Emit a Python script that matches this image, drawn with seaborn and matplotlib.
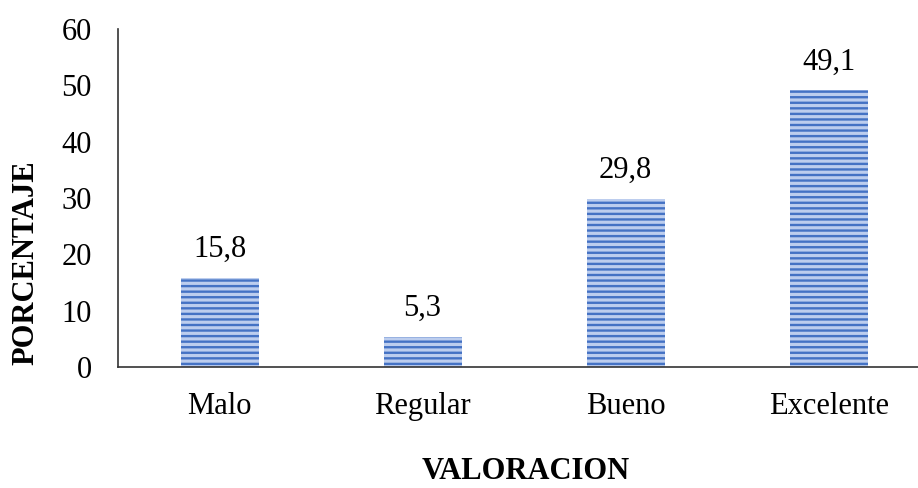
import matplotlib
matplotlib.use("Agg")
import matplotlib.pyplot as plt
import seaborn as sns
import pandas as pd

categorias = ["Malo", "Regular", "Bueno", "Excelente"]
porcentajes = [15.8, 5.3, 29.8, 49.1]
yticks = [0, 10, 20, 30, 40, 50, 60]

sns.set_style("white")
plt.rcParams['font.family'] = ['Liberation Serif', 'DejaVu Serif']
plt.rcParams['text.color'] = 'black'
plt.rcParams['hatch.linewidth'] = 1.7
plt.rcParams['hatch.color'] = '#4472c4'

FS = 22

df = pd.DataFrame({"VALORACION": categorias, "PORCENTAJE": porcentajes})

fig = plt.figure(figsize=(9.18, 4.88), dpi=100)
ax = fig.add_axes([118 / 918, 121 / 488, 800 / 918, 338 / 488])

sns.barplot(data=df, x="VALORACION", y="PORCENTAJE", ax=ax,
            color="#bccdee", width=0.384, saturation=1)
for p in ax.patches:
    p.set_hatch('---')
    p.set_edgecolor('#4472c4')
    p.set_linewidth(0)

for i, v in enumerate(porcentajes):
    ax.annotate(f"{v:.1f}".replace(".", ","), (i, v), xytext=(0, 10),
                textcoords="offset points", ha="center", va="bottom",
                fontsize=FS, color='black')

ax.set_xlim(-0.5, 3.44)
ax.set_ylim(0, 60)
ax.set_yticks(yticks)
ax.tick_params(axis='both', length=0, labelsize=FS, colors='black')
ax.tick_params(axis='x', pad=18)
ax.tick_params(axis='y', pad=19)
for s in ['top', 'right']:
    ax.spines[s].set_visible(False)
for s in ['left', 'bottom']:
    ax.spines[s].set_color('#333333')
    ax.spines[s].set_linewidth(1.2)

ax.set_xlabel("VALORACION", fontsize=FS, fontweight='bold', color='black')
ax.xaxis.set_label_coords(0.509, -0.266)
ax.set_ylabel("PORCENTAJE", fontsize=FS, fontweight='bold', color='black')
ax.yaxis.set_label_coords(-0.097, 0.31)

fig.savefig("out.png", dpi=100)
